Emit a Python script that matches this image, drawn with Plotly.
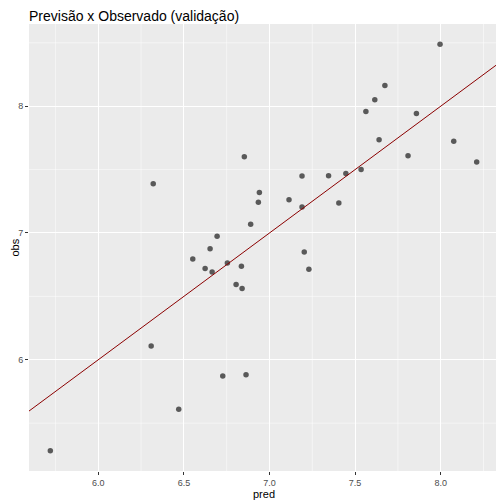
import plotly.graph_objects as go

pred = [5.720, 6.309, 6.321, 6.470, 6.552, 6.624, 6.653, 6.665, 6.694, 6.727,
        6.754, 6.805, 6.836, 6.840, 6.853, 6.863, 6.890, 6.935, 6.941, 7.114,
        7.190, 7.190, 7.203, 7.230, 7.345, 7.405, 7.446, 7.535, 7.563, 7.615,
        7.640, 7.674, 7.809, 7.858, 7.996, 8.076, 8.210]
obs = [5.283, 6.108, 7.388, 5.609, 6.795, 6.719, 6.876, 6.693, 6.974, 5.872,
       6.764, 6.593, 6.738, 6.562, 7.601, 5.882, 7.068, 7.242, 7.320, 7.262,
       7.449, 7.205, 6.850, 6.714, 7.451, 7.236, 7.470, 7.501, 7.958, 8.050,
       7.735, 8.163, 7.609, 7.942, 8.488, 7.724, 7.559]

x_ticks = [6.0, 6.5, 7.0, 7.5, 8.0]
x_ticktext = ["6.0", "6.5", "7.0", "7.5", "8.0"]
x_minor = [5.75, 6.25, 6.75, 7.25, 7.75, 8.25]
y_ticks = [6, 7, 8]
y_ticktext = ["6", "7", "8"]
y_minor = [5.5, 6.5, 7.5, 8.5]

# reta identidade (geom_abline)
abline_intercept = 0.0
abline_slope = 1.0

FONT = "Liberation Sans, Arial, sans-serif"


def expand(values, mult=0.05):
    lo, hi = min(values), max(values)
    pad = (hi - lo) * mult
    return [lo - pad, hi + pad]


x_range = expand(pred)
y_range = expand(obs)

fig = go.Figure()

# grade menor (ggplot theme_gray)
for v in x_minor:
    fig.add_shape(type="line", xref="x", yref="paper", x0=v, x1=v, y0=0, y1=1,
                  line=dict(color="white", width=0.5), layer="below")
for v in y_minor:
    fig.add_shape(type="line", xref="paper", yref="y", x0=0, x1=1, y0=v, y1=v,
                  line=dict(color="white", width=0.5), layer="below")

fig.add_trace(go.Scatter(
    x=pred, y=obs, mode="markers",
    marker=dict(color="rgba(0,0,0,0.62)", size=5.5, line=dict(width=0)),
    showlegend=False, hoverinfo="x+y"
))

fig.add_trace(go.Scatter(
    x=x_range,
    y=[abline_intercept + abline_slope * v for v in x_range],
    mode="lines", line=dict(color="#8B0000", width=1),
    showlegend=False, hoverinfo="skip"
))

axis_common = dict(
    showgrid=True, gridcolor="white", gridwidth=1.1,
    zeroline=False, showline=False, automargin=False,
    ticks="outside", ticklen=3, tickwidth=1, tickcolor="#333333",
    tickfont=dict(family=FONT, size=9, color="#4D4D4D"),
)

# a página coloca o gráfico 8px abaixo/à direita (margem do body)
fig.update_layout(
    width=504, height=504,
    paper_bgcolor="white", plot_bgcolor="#EBEBEB",
    margin=dict(l=21, r=14, t=16, b=41),
    title=dict(text="Previsão x Observado (validação)", xref="paper", x=0, xanchor="left",
               yref="container", y=1 - 8 / 504, yanchor="middle",
               font=dict(family=FONT, size=14, color="black")),
    xaxis=dict(range=x_range, tickvals=x_ticks, ticktext=x_ticktext, **axis_common),
    yaxis=dict(range=y_range, tickvals=y_ticks, ticktext=y_ticktext, **axis_common),
    annotations=[
        dict(text="pred", xref="paper", yref="paper", x=0.5, y=0, yshift=-23,
             xanchor="center", yanchor="middle", showarrow=False,
             font=dict(family=FONT, size=11, color="black")),
        dict(text="obs", xref="paper", yref="paper", x=0, y=0.5, xshift=-15,
             xanchor="center", yanchor="middle", textangle=-90, showarrow=False,
             font=dict(family=FONT, size=11, color="black")),
    ],
)

fig.write_html("out.html")
